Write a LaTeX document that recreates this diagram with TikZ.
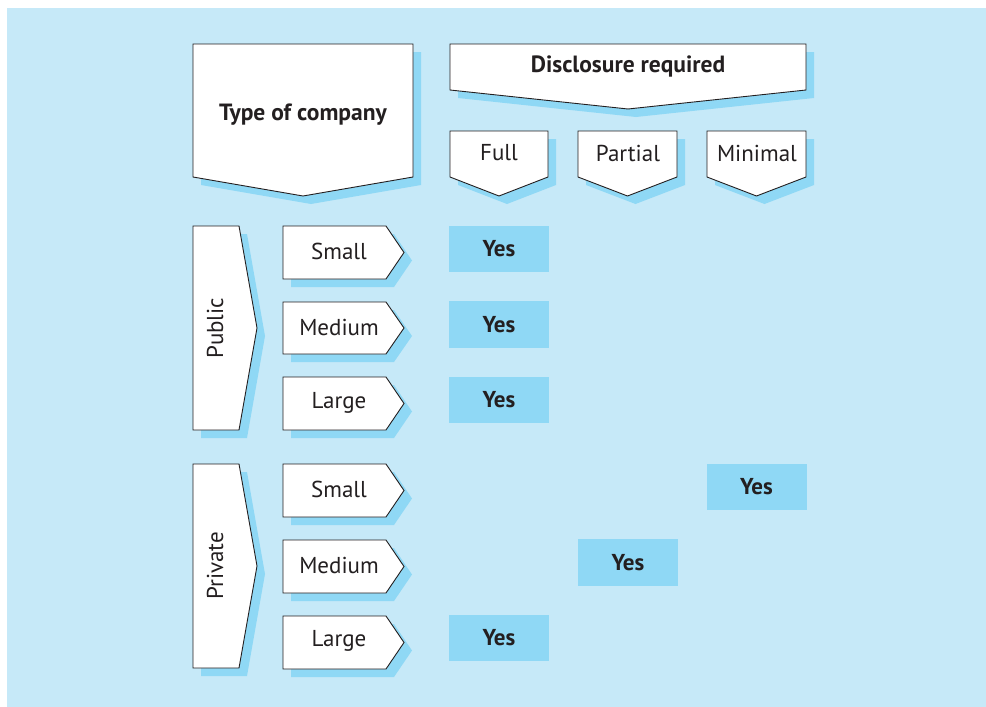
\documentclass[tikz,border=0pt]{standalone}
\usepackage{fontspec}
\setmainfont{PT Sans}
\definecolor{panel}{HTML}{C6E9F8}
\definecolor{shade}{HTML}{8FD8F5}
\definecolor{ink}{HTML}{231F20}
\tikzset{
  card/.style={fill=white, draw=ink, line width=0.9pt, line join=miter},
  drop/.style={fill=shade},
  lbl/.style={font=\fontsize{23}{27}\selectfont, text=ink, inner sep=0pt},
  blbl/.style={lbl, font=\fontsize{23.5}{27}\selectfont\bfseries},
  yesbox/.style={fill=shade, minimum width=100pt, minimum height=46.5pt, inner sep=0pt,
    font=\fontsize{23}{27}\selectfont\bfseries, text=ink}
}
% downward pointer: x1, x2, top, side bottom, tip
\newcommand{\downtag}[5]{%
  \fill[drop] ({#1+8},{#3+8}) -- ({#2+8},{#3+8}) -- ({#2+8},{#4+8}) -- ({(#1+#2)/2+8},{#5+8}) -- ({#1+8},{#4+8}) -- cycle;
  \draw[card] (#1,#3) -- (#2,#3) -- (#2,#4) -- ({(#1+#2)/2},#5) -- (#1,#4) -- cycle;}
% rightward pointer: x1, body end, tip, top, bottom
\newcommand{\righttag}[5]{%
  \fill[drop] ({#1+8},{#4+8}) -- ({#2+8},{#4+8}) -- ({#3+8},{(#4+#5)/2+8}) -- ({#2+8},{#5+8}) -- ({#1+8},{#5+8}) -- cycle;
  \draw[card] (#1,#4) -- (#2,#4) -- (#3,{(#4+#5)/2}) -- (#2,#5) -- (#1,#5) -- cycle;}
\begin{document}
\begin{tikzpicture}[x=1pt,y=-1pt]
\useasboundingbox (0,0) rectangle (986,707);
\fill[white] (0,0) rectangle (986,707);
\fill[panel] (7,8) rectangle (986,707);

% column headings
\downtag{193}{413}{44}{177}{196}
\node[blbl] (type) at (303,115) {Type of company};
\downtag{450}{806}{44}{90}{109}
\node[blbl] (disc) at (628,66) {Disclosure required};
\downtag{450}{548}{131}{177}{196}
\node[lbl] (full) at (499,153) {Full};
\downtag{578}{677}{131}{177}{196}
\node[lbl] (partial) at (628,153) {Partial};
\downtag{707}{806}{131}{177}{196}
\node[lbl] (minimal) at (757,153) {Minimal};

% company groups
\righttag{193}{239}{257}{226}{430}
\node[lbl, rotate=90] (public) at (215,328) {Public};
\righttag{193}{239}{257}{464}{668}
\node[lbl, rotate=90] (private) at (215,566) {Private};

% company sizes
\righttag{283}{386}{404}{226}{279}
\node[lbl] (pubS) at (339,251) {Small};
\righttag{283}{386}{404}{302}{354}
\node[lbl] (pubM) at (339,327) {Medium};
\righttag{283}{386}{404}{377}{430}
\node[lbl] (pubL) at (339,403) {Large};
\righttag{283}{386}{404}{464}{517}
\node[lbl] (priS) at (339,489) {Small};
\righttag{283}{386}{404}{540}{593}
\node[lbl] (priM) at (339,565) {Medium};
\righttag{283}{386}{404}{616}{669}
\node[lbl] (priL) at (339,641) {Large};

% required disclosure
\node[yesbox] (y1) at (499,249) {Yes};
\node[yesbox] (y2) at (499,324.5) {Yes};
\node[yesbox] (y3) at (499,400) {Yes};
\node[yesbox] (y4) at (756.5,487) {Yes};
\node[yesbox] (y5) at (628,562.5) {Yes};
\node[yesbox] (y6) at (499,638) {Yes};
\end{tikzpicture}
\end{document}
